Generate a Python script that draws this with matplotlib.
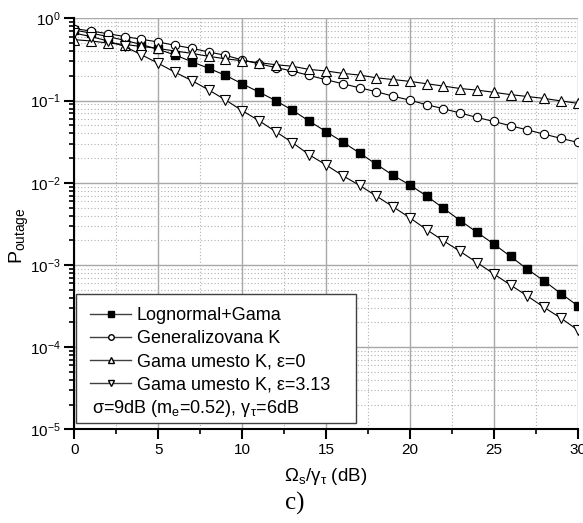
import matplotlib
matplotlib.use("Agg")
import matplotlib.pyplot as plt
from matplotlib.ticker import MultipleLocator, LogLocator, LogFormatterMathtext, NullFormatter
from matplotlib.lines import Line2D

plt.rcParams['font.family'] = ['Liberation Sans', 'DejaVu Sans']
plt.rcParams['mathtext.fontset'] = 'custom'
plt.rcParams['mathtext.rm'] = 'Liberation Sans'
plt.rcParams['mathtext.it'] = 'Liberation Sans:italic'
plt.rcParams['mathtext.bf'] = 'Liberation Sans:bold'

# Omega_s / gamma_tau in dB
snr_db = list(range(0, 31))

lognormal_gama = [0.72, 0.66, 0.60, 0.54, 0.48, 0.42, 0.358, 0.297, 0.247, 0.203,
                  0.160, 0.127, 0.0998, 0.0762, 0.0562, 0.042, 0.0313, 0.023, 0.0168, 0.0123,
                  0.0094, 0.0069, 0.0049, 0.00347, 0.0025, 0.0018, 0.00127, 0.00089, 0.00064, 0.00045,
                  0.00032]
generalizovana_k = [0.75, 0.70, 0.65, 0.60, 0.556, 0.515, 0.47, 0.432, 0.39, 0.355,
                    0.312, 0.28, 0.252, 0.228, 0.202, 0.179, 0.16, 0.143, 0.128, 0.113,
                    0.101, 0.0891, 0.0795, 0.0705, 0.0623, 0.0557, 0.0493, 0.044, 0.039, 0.0347,
                    0.031]
gama_eps0 = [0.55, 0.53, 0.50, 0.48, 0.455, 0.43, 0.40, 0.375, 0.345, 0.322,
             0.305, 0.289, 0.273, 0.261, 0.239, 0.229, 0.214, 0.204, 0.189, 0.18,
             0.171, 0.16, 0.15, 0.14, 0.134, 0.126, 0.118, 0.112, 0.106, 0.099,
             0.0925]
gama_eps313 = [0.66, 0.60, 0.53, 0.455, 0.36, 0.284, 0.221, 0.175, 0.135, 0.102,
               0.0754, 0.057, 0.0419, 0.0308, 0.0219, 0.0165, 0.0122, 0.0093, 0.0069, 0.0051,
               0.00375, 0.00269, 0.00197, 0.00146, 0.00107, 0.00078, 0.00057, 0.00042, 0.000305, 0.000226,
               0.000162]

labels = ["Lognormal+Gama", "Generalizovana K",
          "Gama umesto K, \u03b5=0", "Gama umesto K, \u03b5=3.13"]
note = "\u03c3=9dB (m$_\\mathregular{e}$=0.52), \u03b3$_\\mathregular{\u03c4}$=6dB"

fig = plt.figure(figsize=(5.83, 5.23), dpi=100)
ax = fig.add_axes([0.1274, 0.1788, 0.8635, 0.7862])

ax.plot(snr_db, lognormal_gama, '-', color='black', lw=0.8, marker='s', ms=5.5,
        mfc='black', mec='black')
ax.plot(snr_db, generalizovana_k, '-', color='black', lw=0.8, marker='o', ms=6,
        mfc='white', mec='black', mew=0.8)
ax.plot(snr_db, gama_eps0, '-', color='black', lw=0.8, marker='^', ms=7,
        mfc='white', mec='black', mew=0.8)
ax.plot(snr_db, gama_eps313, '-', color='black', lw=0.8, marker='v', ms=7,
        mfc='white', mec='black', mew=0.8)

ax.set_yscale('log')
ax.set_xlim(0, 30)
ax.set_ylim(1e-5, 1)

ax.xaxis.set_major_locator(MultipleLocator(5))
ax.xaxis.set_minor_locator(MultipleLocator(2.5))
ax.yaxis.set_major_locator(LogLocator(base=10, numticks=10))
ax.yaxis.set_minor_locator(LogLocator(base=10, subs=[2, 3, 4, 5, 6, 7, 8, 9], numticks=20))
ax.yaxis.set_major_formatter(LogFormatterMathtext())
ax.yaxis.set_minor_formatter(NullFormatter())

ax.grid(which='major', color='#a8a8a8', lw=1.0, ls='-')
ax.grid(which='minor', color='#b0b0b0', lw=0.8, ls=(0, (1, 2)))
ax.set_axisbelow(True)

for s in ['top', 'right']:
    ax.spines[s].set_visible(False)
for s in ['left', 'bottom']:
    ax.spines[s].set_linewidth(1.5)

ax.tick_params(which='major', direction='out', length=7, width=1.5, labelsize=11, pad=3)
ax.tick_params(which='minor', direction='out', length=3.5, width=1.2)

ax.set_xlabel("\u03a9$_\\mathregular{s}$/\u03b3$_\\mathregular{\u03c4}$ (dB)", fontsize=13.5)
ax.set_ylabel("P$_\\mathregular{outage}$", fontsize=14)
ax.yaxis.set_label_coords(-0.086, 0.47)
ax.xaxis.set_label_coords(0.5, -0.088)

# legend: frame drawn separately so the note line can sit inside it
frame = plt.Rectangle((0.0034, 0.0158), 0.5562, 0.3137, transform=ax.transAxes,
                      facecolor='white', edgecolor='#404040', lw=1.0, zorder=5)
ax.add_patch(frame)

handles = [
    Line2D([], [], color='#404040', lw=1.0, marker='s', ms=4, mfc='black', mec='black'),
    Line2D([], [], color='#404040', lw=1.0, marker='o', ms=4, mfc='white', mec='black'),
    Line2D([], [], color='#404040', lw=1.0, marker='^', ms=4.5, mfc='white', mec='black'),
    Line2D([], [], color='#404040', lw=1.0, marker='v', ms=4.5, mfc='white', mec='black'),
]
leg = ax.legend(handles, labels, loc='upper left', bbox_to_anchor=(0.031, 0.297),
                frameon=False, fontsize=13, handlelength=2.3, handletextpad=0.3,
                labelspacing=0.33, borderpad=0, borderaxespad=0)
leg.set_zorder(6)

ax.text(0.035, 0.040, note, transform=ax.transAxes, fontsize=13, va='baseline',
        ha='left', zorder=7)

fig.text(0.505, 1 - 503 / 523, "c)", fontsize=18, family='Liberation Serif',
         ha='center', va='center')

fig.savefig("out.png", dpi=100)
